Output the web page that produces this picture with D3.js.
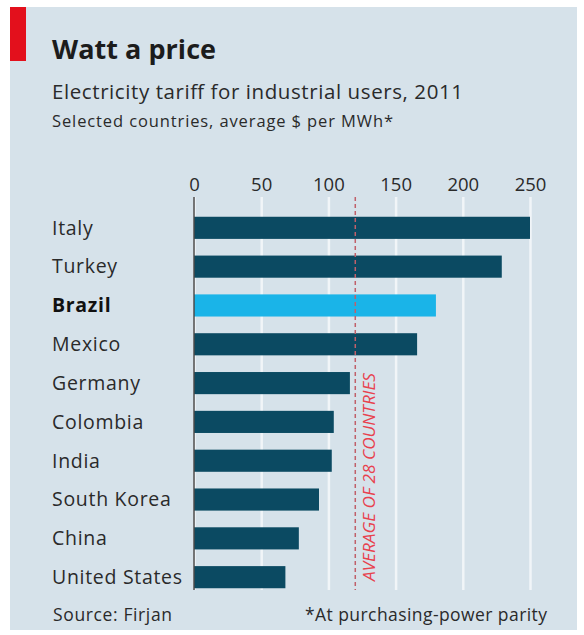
<!DOCTYPE html>
<html>
<head>
<meta charset="utf-8">
<script src="https://cdn.jsdelivr.net/npm/d3@7"></script>
<style>
  html, body { margin: 0; padding: 0; background: #ffffff; }
  svg { display: block; }
  text { font-family: "Open Sans", "Noto Sans", sans-serif; }
</style>
</head>
<body>
<svg id="chart" width="584" height="635"></svg>
<script>
// Electricity tariff for industrial users, 2011 ($ per MWh, PPP)
const countries = ["Italy", "Turkey", "Brazil", "Mexico", "Germany", "Colombia", "India", "South Korea", "China", "United States"];
const tariffs   = [250, 229, 180, 166, 116, 104, 102.5, 93, 78, 68];
const highlight = ["Brazil"];
const tickValues = [0, 50, 100, 150, 200, 250];
const average28 = 120;

const svg = d3.select("#chart");

// panel
svg.append("rect").attr("x", 10).attr("y", 7).attr("width", 567).attr("height", 623).attr("fill", "#d6e2ea");
svg.append("rect").attr("x", 10).attr("y", 7).attr("width", 16).attr("height", 54).attr("fill", "#e3101c");

// headings
svg.append("text").attr("x", 52).attr("y", 59).text("Watt a price")
  .attr("font-size", 27).attr("font-weight", 700).attr("fill", "#1c1c1c")
  .attr("textLength", 164).attr("lengthAdjust", "spacing");
svg.append("text").attr("x", 52).attr("y", 99).text("Electricity tariff for industrial users, 2011")
  .attr("font-size", 20.5).attr("fill", "#2a2a2a")
  .attr("textLength", 411).attr("lengthAdjust", "spacing");
svg.append("text").attr("x", 52).attr("y", 127).text("Selected countries, average $ per MWh*")
  .attr("font-size", 16.5).attr("fill", "#2a2a2a")
  .attr("textLength", 341).attr("lengthAdjust", "spacing");

const x = d3.scaleLinear().domain([0, 250]).range([194, 530]);
const y = d3.scaleBand().domain(countries).range([209, 596]).paddingInner(0.43).paddingOuter(0.2);

// gridlines + tick labels via axis
const axis = d3.axisTop(x).tickValues(tickValues).tickSize(-(590 - 197)).tickFormat(d3.format("d"));
const gAxis = svg.append("g").attr("transform", "translate(0,197)").call(axis);
gAxis.select(".domain").remove();
gAxis.selectAll(".tick line").attr("stroke", "#f1f5f8").attr("stroke-width", 2.5);
gAxis.selectAll(".tick text").attr("font-size", 18.5).attr("fill", "#2a2a2a").attr("dy", "-0.15em")
  .attr("font-family", "'Open Sans', sans-serif");

// bars
svg.append("g").selectAll("rect").data(countries).join("rect")
  .attr("x", x(0))
  .attr("y", d => y(d))
  .attr("width", (d, i) => x(tariffs[i]) - x(0))
  .attr("height", y.bandwidth())
  .attr("fill", d => highlight.includes(d) ? "#1ab4e8" : "#0b4a62");

// zero line
svg.append("line").attr("x1", x(0)).attr("x2", x(0)).attr("y1", 197).attr("y2", 590)
  .attr("stroke", "#4a4a4a").attr("stroke-width", 1.5);

// average line
svg.append("line").attr("x1", x(average28)).attr("x2", x(average28)).attr("y1", 197).attr("y2", 590)
  .attr("stroke", "#c0606a").attr("stroke-width", 1.5).attr("stroke-dasharray", "4,3");
svg.append("text")
  .attr("transform", `translate(${x(average28) + 20},581) rotate(-90)`)
  .text("AVERAGE OF 28 COUNTRIES")
  .attr("font-size", 15.5).attr("font-style", "italic").attr("fill", "#e8414e")
  .attr("textLength", 208).attr("lengthAdjust", "spacingAndGlyphs");

// country labels
svg.append("g").selectAll("text").data(countries).join("text")
  .attr("x", 52)
  .attr("y", d => y(d) + y.bandwidth() / 2)
  .attr("dy", "0.35em")
  .text(d => d)
  .attr("font-size", 19.5)
  .attr("letter-spacing", 0.7)
  .attr("font-weight", d => highlight.includes(d) ? 700 : 400)
  .attr("fill", d => highlight.includes(d) ? "#111" : "#2a2a2a");

// footer
svg.append("text").attr("x", 53).attr("y", 621).text("Source: Firjan")
  .attr("font-size", 17.5).attr("fill", "#2a2a2a")
  .attr("textLength", 119).attr("lengthAdjust", "spacing");
svg.append("text").attr("x", 305).attr("y", 621).text("*At purchasing-power parity")
  .attr("font-size", 17.5).attr("fill", "#2a2a2a")
  .attr("textLength", 242).attr("lengthAdjust", "spacing");
</script>
</body>
</html>
